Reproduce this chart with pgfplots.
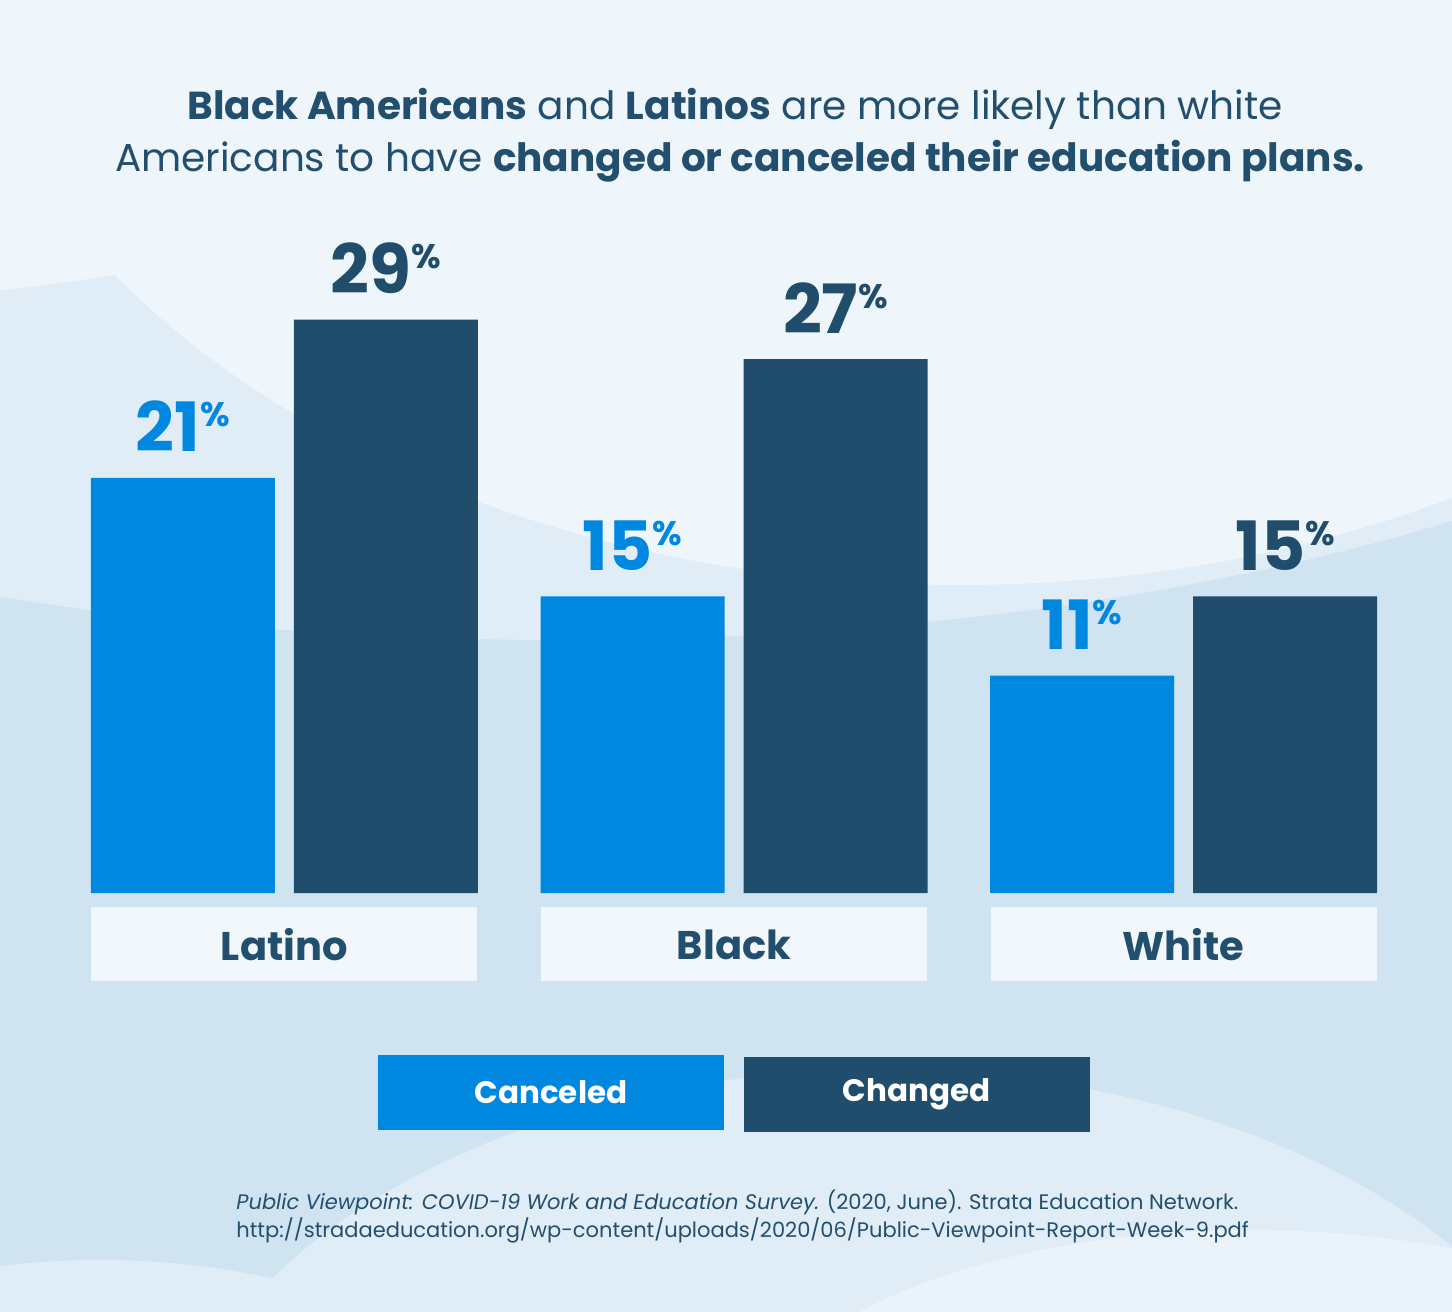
\documentclass[border=0pt]{standalone}
\usepackage{fontspec}
\setmainfont{Poppins}
\usepackage{pgfplots}
\pgfplotsset{compat=1.18}

\definecolor{cancel}{HTML}{0088E0}
\definecolor{change}{HTML}{1F4D6B}
\definecolor{ink}{HTML}{234F6E}
\definecolor{bgbase}{HTML}{D0E3F1}
\definecolor{bgmid}{HTML}{E0EDF7}
\definecolor{bgtop}{HTML}{EEF5FB}
\definecolor{boxfill}{HTML}{F2F7FB}

\pgfplotstableread{
x canceled changed
0 21 29
1 15 27
2 11 15
}\groupdata

\begin{document}
\begin{tikzpicture}
% background, in pixel units of the reference (1 px = 0.5 bp, y down)
\begin{scope}[x=0.5bp, y=-0.5bp, shift={(0bp,656bp)}]
  \path[use as bounding box] (0,0) rectangle (1452,1312);
  \clip (0,0) rectangle (1452,1312);
  \fill[bgbase] (0,0) rectangle (1452,1312);
  \fill[bgmid] (560,120) ellipse [x radius=1400, y radius=520];
  \fill[bgtop] (960,-120) ellipse [x radius=1020, y radius=705];
  \fill[bgtop] (-200,-200) ellipse [x radius=1000, y radius=500];
  \fill[bgmid] (880,1520) ellipse [x radius=720, y radius=450];
  \fill[bgtop!70!bgmid] (1250,1470) ellipse [x radius=520, y radius=240];
  \fill[bgmid] (100,1560) ellipse [x radius=500, y radius=300];

  % title
  \node[anchor=base, text=ink, font=\fontsize{19.5bp}{26bp}\selectfont] at (735,120)
    {\textbf{Black Americans} and \textbf{Latinos} are more likely than white};
  \node[anchor=base, text=ink, font=\fontsize{19.5bp}{26bp}\selectfont] at (740,172)
    {Americans to have \textbf{changed or canceled their education plans.}};

  % legend
  \node[fill=cancel, text=white, minimum width=173bp, minimum height=37.5bp, inner sep=0,
        font=\fontsize{15.5bp}{18bp}\selectfont\bfseries] at (551,1092.5) {Canceled};
  \node[fill=change, text=white, minimum width=173bp, minimum height=37.5bp, inner sep=0,
        font=\fontsize{15.5bp}{18bp}\selectfont\bfseries] at (916.5,1094.5) {Changed};

  % source
  \node[anchor=base west, text=ink, inner sep=0, font=\fontsize{10.5bp}{14bp}\selectfont] at (236,1210)
    {\textit{Public Viewpoint: COVID-19 Work and Education Survey.} (2020, June). Strata Education Network.};
  \node[anchor=base west, text=ink, inner sep=0, font=\fontsize{10.5bp}{14bp}\selectfont] at (236,1238)
    {http://stradaeducation.org/wp-content/uploads/2020/06/Public-Viewpoint-Report-Week-9.pdf};
\end{scope}

\begin{axis}[
    at={(45.5bp,209.5bp)}, anchor=south west,
    scale only axis,
    width=643bp, height=296.6bp,
    xmin=-0.43, xmax=2.43,
    ymin=0, ymax=30,
    axis line style={draw=none},
    ytick=\empty,
    xtick={0,1,2},
    xticklabels={Latino, Black, White},
    major tick length=0pt,
    xticklabel style={anchor=north, yshift=-7bp, fill=boxfill, inner sep=0,
        minimum width=193bp, minimum height=37bp, text=ink,
        font=\fontsize{20bp}{22bp}\selectfont\bfseries},
    clip=false,
    bar width=92bp,
    /pgf/number format/assume math mode=true,
    nodes near coords={\pgfmathprintnumber[precision=0]{\pgfplotspointmeta}\raisebox{12.5bp}{\fontsize{17bp}{17bp}\selectfont\%}},
    nodes near coords style={anchor=base, yshift=13bp, inner sep=0,
        font=\fontsize{34bp}{34bp}\selectfont\bfseries},
    point meta=y,
]
\addplot[ybar, bar shift=-50.75bp, fill=cancel, draw=none,
    nodes near coords style={text=cancel, xshift=-50.75bp}] table[x=x, y=canceled] {\groupdata};
\addplot[ybar, bar shift=50.75bp, fill=change, draw=none,
    nodes near coords style={text=change, xshift=50.75bp}] table[x=x, y=changed] {\groupdata};
\end{axis}
\end{tikzpicture}
\end{document}
